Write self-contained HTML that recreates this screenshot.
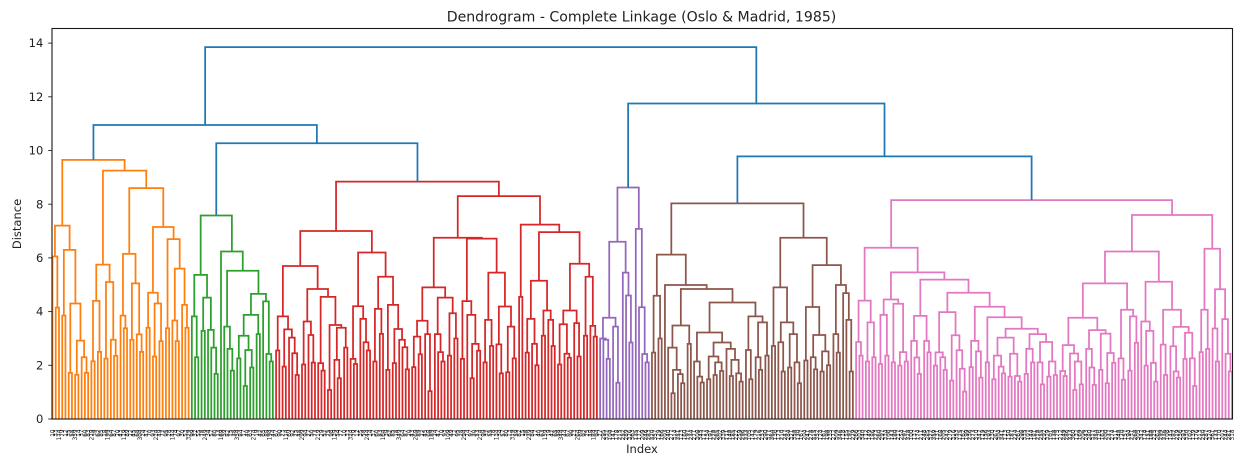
<!DOCTYPE html>
<html lang="en">
<head>
<meta charset="utf-8">
<title>Dendrogram - Complete Linkage (Oslo &amp; Madrid, 1985)</title>
<style>
html,body{margin:0;padding:0;background:#fff;width:1244px;height:465px;overflow:hidden}
svg{display:block;font-family:"DejaVu Sans","Liberation Sans",sans-serif}
</style>
</head>
<body>
<svg id="chart" xmlns="http://www.w3.org/2000/svg" width="1244" height="465" viewBox="0 0 1244 465">
  <rect x="0" y="0" width="1244" height="465" fill="#ffffff"/>
  <text x="641.5" y="21.5" text-anchor="middle" font-size="14.1" fill="#222">Dendrogram - Complete Linkage (Oslo &amp; Madrid, 1985)</text>
  <g id="links"></g>
  <g id="yticks"></g>
  <g id="xlabels"></g>
  <rect x="52" y="28.5" width="1180.5" height="390.5" fill="none" stroke="#1a1a1a" stroke-width="1.1"/>
  <text transform="translate(21,224) rotate(-90)" text-anchor="middle" font-size="11.5" fill="#222">Distance</text>
  <text x="642" y="453" text-anchor="middle" font-size="11.5" fill="#222">Index</text>
</svg>
<script>
// Merge heights. A node is [height, left, right]; 0 is a leaf.
const orangeCluster = [9.65,
  [7.2,[6.05,0,[4.15,0,0]],[6.3,[3.85,0,0],[4.3,[1.72,0,0],[2.92,[1.65,0,0],[2.3,0,[1.72,0,0]]]]]],
  [9.25,
    [5.75,[4.4,[2.15,0,0],[2.5,0,0]],[5.1,[2.25,0,0],[2.95,0,[2.35,0,0]]]],
    [8.6,
      [6.15,[3.85,0,[3.38,0,0]],[5.05,[2.95,0,0],[3.15,0,[2.5,0,0]]]],
      [7.15,[4.7,[3.4,0,0],[4.3,[2.33,0,0],[2.9,0,0]]],[6.7,[3.38,0,0],[5.6,[3.67,0,[2.9,0,0]],[4.25,0,[3.4,0,0]]]]]
    ]
  ]
];
const greenCluster = [7.58,
  [5.37,[3.82,0,[2.3,0,0]],[4.52,[3.28,0,0],[3.32,0,[2.66,0,[1.68,0,0]]]]],
  [6.24,0,[5.52,[3.44,0,[2.61,0,[1.8,0,0]]],[4.66,[3.88,[3.1,[2.26,0,0],[2.57,[1.23,0,0],[1.92,0,0]]],[3.16,0,0]],[4.38,0,[2.42,0,[2.14,0,0]]]]]]
];
const redCluster = [8.84,
  [7.0,
    [5.7,
      [3.82,[2.55,0,0],[3.34,[1.95,0,0],[3.03,0,[2.45,0,[1.64,0,0]]]]],
      [4.84,[3.63,[2.03,0,0],[3.13,0,[2.1,0,0]]],[4.55,[2.08,0,[1.8,0,0]],[3.5,[1.08,0,0],[3.4,[2.2,0,[1.52,0,0]],[2.66,0,0]]]]]
    ],
    [6.2,
      [4.2,[2.24,0,[2.05,0,0]],[3.73,0,[2.86,0,[2.55,0,0]]]],
      [5.3,[4.1,[2.14,0,0],[3.17,0,0]],[4.25,[1.83,0,0],[3.35,[2.08,0,0],[2.95,0,[2.67,0,[1.85,0,0]]]]]]
    ]
  ],
  [8.3,
    [6.75,
      [4.9,[3.66,[3.07,[1.93,0,0],[2.41,0,0]],[3.16,0,[1.04,0,0]]],[4.52,[3.16,0,[2.49,0,[2.14,0,0]]],[3.94,[2.36,0,0],[3.0,0,0]]]],
      [6.72,
        [4.39,[2.24,0,0],[3.88,0,[2.8,[1.52,0,0],[2.54,0,0]]]],
        [5.45,[3.69,[2.11,0,0],[2.72,0,0]],[4.19,[2.78,0,[1.7,0,0]],[3.44,[1.74,0,0],[2.26,0,0]]]]
      ]
    ],
    [7.24,
      [4.55,0,0],
      [6.96,
        [5.15,[3.73,[2.47,0,0],[2.8,0,[2.0,0,0]]],[4.04,[3.1,0,0],[3.69,0,[2.72,0,0]]]],
        [5.78,[4.04,[3.53,[2.03,0,0],[2.43,0,[2.28,0,0]]],[3.57,0,[2.33,0,0]]],[5.3,[3.1,0,0],[3.47,0,[3.07,0,0]]]]
      ]
    ]
  ]
];
const purpleCluster = [8.62,
  [6.6,[3.77,[3.0,0,[2.95,0,[2.24,0,0]]],[3.44,0,[1.35,0,0]]],[5.45,0,[4.6,0,[2.85,0,0]]]],
  [7.08,0,[4.16,0,[2.42,0,[2.11,0,0]]]]
];
const brownCluster = [8.03,
  [6.12,
    [4.59,[2.47,0,0],[3.0,0,0]],
    [4.99,0,
      [4.84,
        [3.48,[2.66,0,[1.83,[0.96,0,0],[1.67,0,[1.33,0,0]]]],[2.8,0,0]],
        [4.34,
          [3.22,
            [2.14,0,[1.58,0,[1.36,0,0]]],
            [2.85,
              [2.33,[1.48,0,0],[2.11,[1.64,0,0],[1.79,0,0]]],
              [2.61,0,[2.2,[1.6,0,0],[1.7,0,[1.39,0,0]]]]
            ]
          ],
          [3.82,[2.57,0,[1.48,0,0]],[3.6,[2.3,0,[1.83,0,0]],[2.36,0,0]]]
        ]
      ]
    ]
  ],
  [6.75,
    [4.9,[2.72,0,0],[3.6,[2.86,0,[1.77,0,0]],[3.16,[1.92,0,0],[2.11,0,[1.33,0,0]]]]],
    [5.73,
      [4.17,[2.18,0,0],[3.13,[2.3,0,[1.85,0,0]],[2.52,[1.77,0,0],[2.0,0,0]]]],
      [4.99,[3.16,0,[2.47,0,0]],[4.69,0,[3.69,0,[1.77,0,0]]]]
    ]
  ]
];
const pinkCluster = [8.15,
  [6.38,
    [4.41,[2.87,0,[2.36,0,0]],[3.6,[2.14,0,0],[2.3,0,0]]],
    [5.46,
      [4.45,[3.88,[2.05,0,0],[2.36,0,0]],[4.29,[2.11,0,0],[2.49,[1.99,0,0],[2.14,0,0]]]],
      [5.19,
        [3.84,[2.91,0,[2.29,0,[1.68,0,0]]],[2.91,0,[2.48,0,0]]],
        [4.7,
          [3.98,[2.48,[1.99,0,0],[2.3,0,[1.83,0,0]]],[3.12,[1.43,0,0],[2.56,0,[1.87,0,[1.02,0,0]]]]],
          [4.18,
            [2.91,[1.93,0,0],[2.52,0,[1.54,0,0]]],
            [3.79,[2.11,0,0],
              [3.36,
                [3.03,[2.36,[1.48,0,0],[1.95,0,[1.7,0,0]]],[2.43,[1.58,0,0],[1.6,0,[1.39,0,0]]]],
                [3.16,[2.61,[1.68,0,0],[2.11,0,0]],[2.87,[2.11,0,[1.29,0,0]],[2.14,[1.58,0,0],[1.64,0,0]]]]
              ]
            ]
          ]
        ]
      ]
    ]
  ],
  [7.6,
    [6.24,
      [5.05,
        [3.77,
          [2.75,[1.79,0,[1.6,0,0]],[2.44,0,[2.14,[1.08,0,0],[1.29,0,0]]]],
          [3.31,[2.61,0,[1.92,0,[1.27,0,0]]],[3.18,[1.83,0,0],[2.46,[1.33,0,0],[2.09,0,0]]]]
        ],
        [4.07,[2.26,0,[1.46,0,0]],[3.82,[1.8,0,0],[2.84,0,0]]]
      ],
      [5.11,
        [3.63,0,[3.28,[1.99,0,0],[2.09,0,[1.39,0,0]]]],
        [4.07,[2.77,0,[1.64,0,0]],[3.43,[2.71,0,[1.77,0,[1.54,0,0]]],[3.21,[2.24,0,0],[2.26,0,[1.23,0,0]]]]]
      ]
    ],
    [6.34,
      [4.07,[2.49,0,0],[2.61,0,0]],
      [4.83,[3.37,0,[2.14,0,0]],[3.72,0,[2.43,0,[1.77,0,0]]]]
    ]
  ]
];
// Heights of the blue links joining the clusters.
const rootHeights = [13.85, 10.95, 10.27, 11.75, 9.78];
const yTickValues = [0, 2, 4, 6, 8, 10, 12, 14];

const NS = 'http://www.w3.org/2000/svg';
const LEAF_COUNT = 365;
const xAxis = function (leafIndex) { return 52.5 + leafIndex * (1179.5 / (LEAF_COUNT - 1)); };
const yAxis = function (distance) { return 419 - distance * 26.85; };
const linksGroup = document.getElementById('links');
const ticksGroup = document.getElementById('yticks');
const labelsGroup = document.getElementById('xlabels');
let nextLeaf = 0;

function drawLink(a, b, height, color, name) {
  const path = document.createElementNS(NS, 'path');
  const top = yAxis(height).toFixed(2);
  path.setAttribute('d', 'M' + a.x.toFixed(2) + ' ' + yAxis(a.h).toFixed(2) + 'V' + top + 'H' + b.x.toFixed(2) + 'V' + yAxis(b.h).toFixed(2));
  path.setAttribute('fill', 'none');
  path.setAttribute('stroke', color);
  path.setAttribute('stroke-width', '1.75');
  
  
  linksGroup.appendChild(path);
}

function drawCluster(node, color, name) {
  if (node === 0) {
    return { x: xAxis(nextLeaf++), h: 0 };
  }
  const left = drawCluster(node[1], color, name);
  const right = drawCluster(node[2], color, name);
  drawLink(left, right, node[0], color, name);
  return { x: (left.x + right.x) / 2, h: node[0] };
}

const BLUE = '#1f77b4';
const orangeTop = drawCluster(orangeCluster, '#ff7f0e', 'orange-cluster-link');
const greenTop = drawCluster(greenCluster, '#2ca02c', 'green-cluster-link');
const redTop = drawCluster(redCluster, '#d62728', 'red-cluster-link');
const purpleTop = drawCluster(purpleCluster, '#9467bd', 'purple-cluster-link');
const brownTop = drawCluster(brownCluster, '#8c564b', 'brown-cluster-link');
const pinkTop = drawCluster(pinkCluster, '#e377c2', 'pink-cluster-link');

function joinTop(a, b, height) {
  drawLink(a, b, height, BLUE, 'root-link');
  return { x: (a.x + b.x) / 2, h: height };
}
const greenRed = joinTop(greenTop, redTop, rootHeights[2]);
const leftSide = joinTop(orangeTop, greenRed, rootHeights[1]);
const brownPink = joinTop(brownTop, pinkTop, rootHeights[4]);
const rightSide = joinTop(purpleTop, brownPink, rootHeights[3]);
joinTop(leftSide, rightSide, rootHeights[0]);

yTickValues.forEach(function (value) {
  const y = yAxis(value);
  const tick = document.createElementNS(NS, 'line');
  tick.setAttribute('x1', '48.2');
  tick.setAttribute('x2', '52');
  tick.setAttribute('y1', y);
  tick.setAttribute('y2', y);
  tick.setAttribute('stroke', '#222');
  tick.setAttribute('stroke-width', '0.9');
  
  
  ticksGroup.appendChild(tick);
  const label = document.createElementNS(NS, 'text');
  label.setAttribute('x', '43.3');
  label.setAttribute('y', y + 4.1);
  label.setAttribute('text-anchor', 'end');
  label.setAttribute('font-size', '11.5');
  label.setAttribute('fill', '#222');
  
  
  label.textContent = String(value);
  ticksGroup.appendChild(label);
});

// The leaf labels are too small to read in the reference, so these are placeholders of similar length.
for (let i = 0; i < LEAF_COUNT; i++) {
  const three = i >= 170 || i % 5 === 2;
  const text = three ? 100 + (i * 37) % 265 : 10 + (i * 23) % 90;
  const label = document.createElementNS(NS, 'text');
  label.setAttribute('transform', 'translate(' + (xAxis(i) + 2).toFixed(2) + ',429.5) rotate(-90)');
  label.setAttribute('text-anchor', 'end');
  label.setAttribute('font-size', '5.7');
  label.setAttribute('fill', '#111');
  
  
  label.textContent = String(text);
  labelsGroup.appendChild(label);
}
</script>
</body>
</html>
